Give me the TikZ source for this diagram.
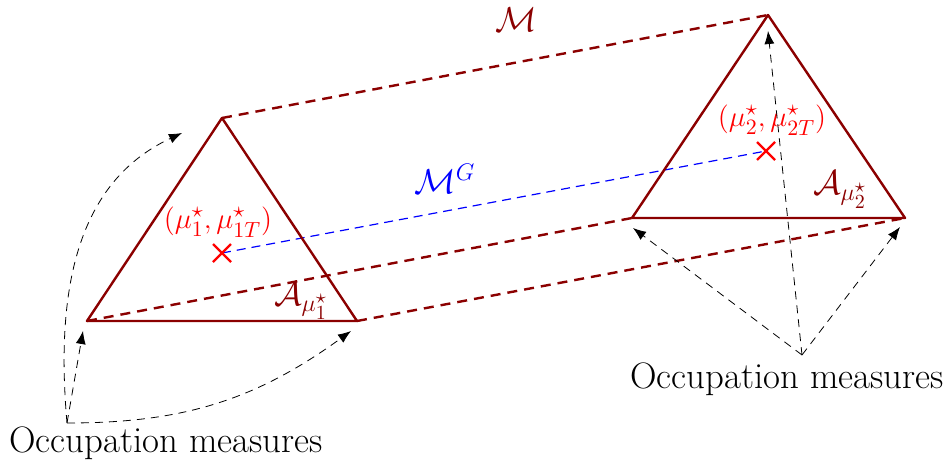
\documentclass[tikz,border=0pt]{standalone}
\usetikzlibrary{arrows.meta,calc}
\usepackage{amsmath,amssymb}
\definecolor{dred}{RGB}{139,0,0}
\begin{document}
\begin{tikzpicture}[x=0.5pt,y=-0.5pt,
  tri/.style={draw=dred,line width=1.2pt,line join=round},
  link/.style={draw=dred,line width=1.2pt,dash pattern=on 5pt off 3.5pt},
  glink/.style={draw=blue,line width=0.6pt,dash pattern=on 4.5pt off 3pt},
  occ/.style={draw=black,line width=0.4pt,dash pattern=on 4pt off 3pt,-{Latex[length=6.5pt,width=5pt]}},
  cross/.style={red,line width=1.1pt},
  lab/.style={inner sep=0pt,font=\LARGE},
  pt/.style={inner sep=0pt,font=\fontsize{15.5}{18}\selectfont},
  occtext/.style={inner sep=0pt,font=\fontsize{18.4}{22}\selectfont}]
\useasboundingbox (0,0) rectangle (947,466);
% left triangle
\coordinate (LA) at (222,118);
\coordinate (LB) at (87,321);
\coordinate (LC) at (357,321);
% right triangle
\coordinate (RA) at (768,15);
\coordinate (RB) at (632,218);
\coordinate (RC) at (905,218);
% optimal points
\coordinate (P1) at (222,253);
\coordinate (P2) at (766,151);
% links
\draw[link] (LA) -- (RA);
\draw[link] (LB) -- (RB);
\draw[link] (LC) -- (RC);
\draw[glink] (P1) -- (P2);
% triangles
\draw[tri] (LA) -- (LB) -- (LC) -- cycle;
\draw[tri] (RA) -- (RB) -- (RC) -- cycle;
% crosses
\draw[cross] ($(P1)+(-9,-9)$) -- ($(P1)+(9,9)$) ($(P1)+(-9,9)$) -- ($(P1)+(9,-9)$);
\draw[cross] ($(P2)+(-9,-9)$) -- ($(P2)+(9,9)$) ($(P2)+(-9,9)$) -- ($(P2)+(9,-9)$);
% labels
\node[lab,text=dred] (lM) at (516,20) {$\mathcal{M}$};
\node[lab,text=blue] (lMG) at (445,179) {$\mathcal{M}^G$};
\node[pt,text=red] (lP1) at (218,222) {$(\mu_1^\star,\mu_{1T}^\star)$};
\node[pt,text=red] (lP2) at (772,120) {$(\mu_2^\star,\mu_{2T}^\star)$};
\node[lab,text=dred] (lA1) at (301,301) {$\mathcal{A}_{\mu_1^\star}$};
\node[lab,text=dred] (lA2) at (840,190) {$\mathcal{A}_{\mu_2^\star}$};
% occupation measures
\node[occtext] (O1) at (166,443) {Occupation measures};
\node[occtext] (O2) at (787,379) {Occupation measures};
\coordinate (S1) at (67,423);
\coordinate (S2) at (802,355);
\coordinate (T1a) at (83,331);
\coordinate (T1b) at (351,331);
\coordinate (T1c) at (182,133);
\coordinate (T2a) at (633,228);
\coordinate (T2b) at (900,227);
\coordinate (T2c) at (768,31);
\draw[occ] (S1) -- (T1a);
\draw[occ] (S1) to[bend right=18] (T1b);
\draw[occ] (S1) to[out=95,in=205] (T1c);
\draw[occ] (S2) -- (T2a);
\draw[occ] (S2) -- (T2b);
\draw[occ] (S2) -- (T2c);
\end{tikzpicture}
\end{document}
